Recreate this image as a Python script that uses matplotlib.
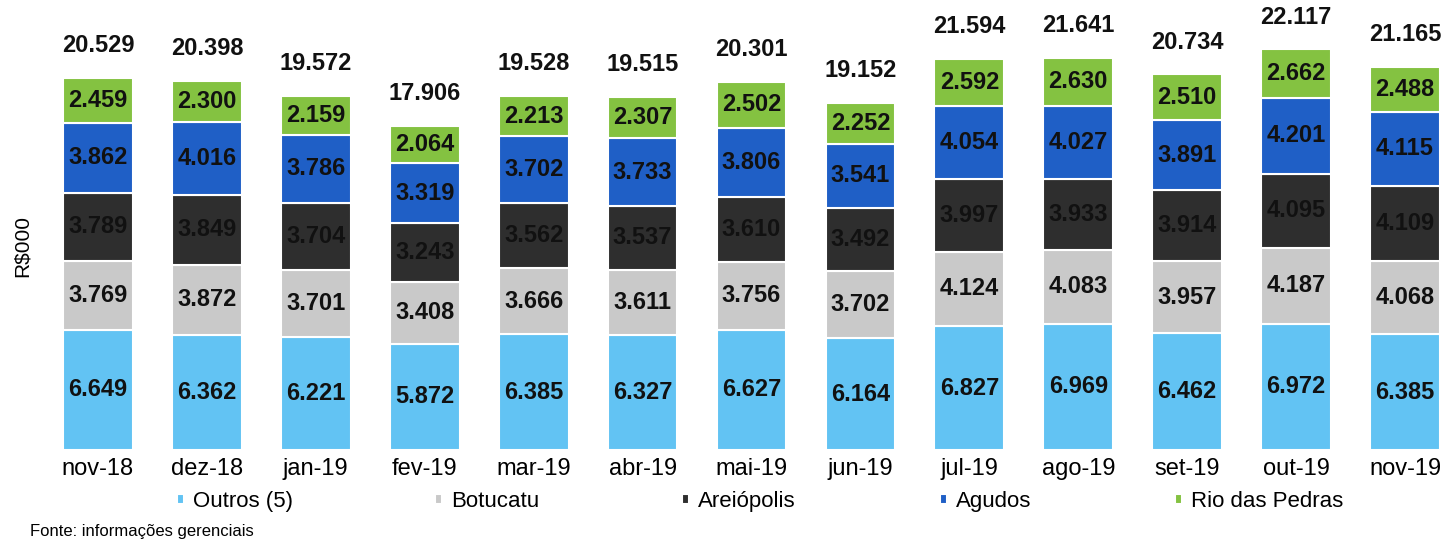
import matplotlib
matplotlib.use("Agg")
import matplotlib.pyplot as plt
import numpy as np

months = ["nov-18", "dez-18", "jan-19", "fev-19", "mar-19", "abr-19", "mai-19",
          "jun-19", "jul-19", "ago-19", "set-19", "out-19", "nov-19"]
outros = [6649, 6362, 6221, 5872, 6385, 6327, 6627, 6164, 6827, 6969, 6462, 6972, 6385]
botucatu = [3769, 3872, 3701, 3408, 3666, 3611, 3756, 3702, 4124, 4083, 3957, 4187, 4068]
areiopolis = [3789, 3849, 3704, 3243, 3562, 3537, 3610, 3492, 3997, 3933, 3914, 4095, 4109]
agudos = [3862, 4016, 3786, 3319, 3702, 3733, 3806, 3541, 4054, 4027, 3891, 4201, 4115]
rio = [2459, 2300, 2159, 2064, 2213, 2307, 2502, 2252, 2592, 2630, 2510, 2662, 2488]
totals = [20529, 20398, 19572, 17906, 19528, 19515, 20301, 19152, 21594, 21641, 20734, 22117, 21165]

series = [
    ("Outros (5)", outros, "#62C3F3"),
    ("Botucatu", botucatu, "#C9C9C9"),
    ("Areiópolis", areiopolis, "#2E2E2E"),
    ("Agudos", agudos, "#1F5FC6"),
    ("Rio das Pedras", rio, "#84C241"),
]

plt.rcParams['font.family'] = ['Liberation Sans', 'DejaVu Sans']

fig = plt.figure(figsize=(14.41, 5.40), dpi=100)
ax = fig.add_axes([0.0264, 0.1667, 0.9736, 0.805])

x = np.arange(len(months))
bottom = np.zeros(len(months))
handles = []
for name, vals, col in series:
    vals = np.array(vals, dtype=float)
    b = ax.bar(x, vals, 0.64, bottom=bottom, color=col, edgecolor="white",
               linewidth=1.5, label=name)
    handles.append(b)
    for xi, v, b0 in zip(x, vals, bottom):
        ax.text(xi, b0 + v / 2, f"{int(v) // 1000}.{int(v) % 1000:03d}",
                ha="center", va="center", fontsize=17, fontweight="bold",
                color="#111111")
    bottom += vals

for xi, t, top in zip(x, totals, bottom):
    ax.text(xi, top + 1150, f"{t // 1000}.{t % 1000:03d}", ha="center",
            va="bottom", fontsize=17, fontweight="bold", color="#111111")

ax.set_xlim(-0.55, 12.33)
ax.set_ylim(0, 24000)
ax.set_xticks(x)
ax.set_xticklabels(months, fontsize=17)
ax.tick_params(axis="x", length=0, pad=6)
ax.set_yticks([])
for s in ax.spines.values():
    s.set_visible(False)

fig.text(0.0155, 0.545, "R$000", rotation=90, fontsize=15, ha="center", va="center")

# legend entries placed individually (fixed column positions as in reference)
leg_x = [0.1228, 0.3019, 0.4733, 0.6523, 0.8154]
for h, lx in zip(handles, leg_x):
    fig.legend(handles=[h], loc="center left", bbox_to_anchor=(lx, 0.072),
               frameon=False, fontsize=16, handlelength=0.32,
               handleheight=0.32, handletextpad=0.4, borderpad=0,
               borderaxespad=0)

fig.text(0.021, 0.002, "Fonte: informações gerenciais", fontsize=12,
         ha="left", va="bottom")

fig.savefig("out.png", dpi=100)
